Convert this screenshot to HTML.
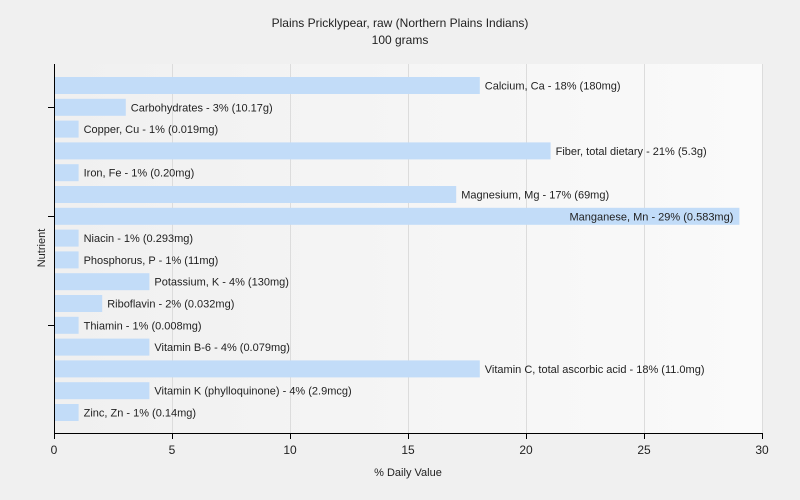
<!DOCTYPE html>
<html><head><style>body{margin:0;background:#f0f0f0}svg{display:block;font-family:"Liberation Sans",sans-serif}</style></head><body>
<svg width="800" height="500" xmlns="http://www.w3.org/2000/svg">
<defs><linearGradient id="g" x1="0" x2="1" y1="0" y2="0"><stop offset="0" stop-color="#f0f0f0"/><stop offset="1" stop-color="#fafafa"/></linearGradient></defs>
<rect width="800" height="500" fill="#f0f0f0"/>
<rect x="54" y="64" width="708" height="369" fill="url(#g)"/>
<g stroke="#dcdcdc" stroke-width="1">
<line x1="172.5" y1="64" x2="172.5" y2="433"/><line x1="290.5" y1="64" x2="290.5" y2="433"/><line x1="408.5" y1="64" x2="408.5" y2="433"/><line x1="526.5" y1="64" x2="526.5" y2="433"/><line x1="644.5" y1="64" x2="644.5" y2="433"/><line x1="762.5" y1="64" x2="762.5" y2="433"/>
</g>
<text x="400" y="27" text-anchor="middle" font-size="12" fill="#222">Plains Pricklypear, raw (Northern Plains Indians)</text>
<text x="400" y="44" text-anchor="middle" font-size="12" fill="#222">100 grams</text>
<g fill="#c2dcf8" id="bars"></g>
<g font-size="11" fill="#222" id="labels"></g>
<g stroke="#000" stroke-width="1">
<line x1="54.5" y1="64" x2="54.5" y2="434"/><line x1="54" y1="433.5" x2="763" y2="433.5"/>
<line x1="48" y1="107.5" x2="54" y2="107.5"/><line x1="48" y1="216.5" x2="54" y2="216.5"/><line x1="48" y1="325.5" x2="54" y2="325.5"/>
<line x1="54.5" y1="433" x2="54.5" y2="439"/><line x1="172.5" y1="433" x2="172.5" y2="439"/><line x1="290.5" y1="433" x2="290.5" y2="439"/><line x1="408.5" y1="433" x2="408.5" y2="439"/><line x1="526.5" y1="433" x2="526.5" y2="439"/><line x1="644.5" y1="433" x2="644.5" y2="439"/><line x1="762.5" y1="433" x2="762.5" y2="439"/>
</g>
<g font-size="12" fill="#222" text-anchor="middle">
<text x="54" y="454">0</text><text x="172" y="454">5</text><text x="290" y="454">10</text><text x="408" y="454">15</text><text x="526" y="454">20</text><text x="644" y="454">25</text><text x="762" y="454">30</text>
</g>
<text x="408" y="476" text-anchor="middle" font-size="11" fill="#222">% Daily Value</text>
<text transform="translate(45,248) rotate(-90)" text-anchor="middle" font-size="11" fill="#222">Nutrient</text>
<script>
var d=[["Calcium, Ca - 18% (180mg)",18],["Carbohydrates - 3% (10.17g)",3],["Copper, Cu - 1% (0.019mg)",1],["Fiber, total dietary - 21% (5.3g)",21],["Iron, Fe - 1% (0.20mg)",1],["Magnesium, Mg - 17% (69mg)",17],["Manganese, Mn - 29% (0.583mg)",29],["Niacin - 1% (0.293mg)",1],["Phosphorus, P - 1% (11mg)",1],["Potassium, K - 4% (130mg)",4],["Riboflavin - 2% (0.032mg)",2],["Thiamin - 1% (0.008mg)",1],["Vitamin B-6 - 4% (0.079mg)",4],["Vitamin C, total ascorbic acid - 18% (11.0mg)",18],["Vitamin K (phylloquinone) - 4% (2.9mcg)",4],["Zinc, Zn - 1% (0.14mg)",1]];
var ns="http://www.w3.org/2000/svg",b=document.getElementById("bars"),l=document.getElementById("labels");
d.forEach(function(e,i){var y=77+i*21.8,w=e[1]*23.6;var r=document.createElementNS(ns,"rect");r.setAttribute("x",55);r.setAttribute("y",y);r.setAttribute("width",w);r.setAttribute("height",17);b.appendChild(r);
var t=document.createElementNS(ns,"text");t.textContent=e[0];t.setAttribute("y",y+12.5);if(e[1]>=29){t.setAttribute("x",55+w-6);t.setAttribute("text-anchor","end");}else t.setAttribute("x",55+w+5);l.appendChild(t);});
</script>
</svg></body></html>
